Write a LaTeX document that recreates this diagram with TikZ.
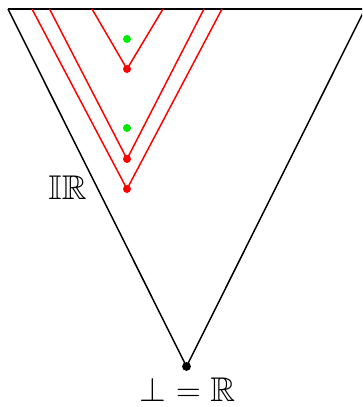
\documentclass[tikz,border=0pt]{standalone}
\usepackage{amsmath}
\usepackage{amssymb}
\usepackage{tikz}
\usetikzlibrary{positioning}
\definecolor{myred}{RGB}{255,0,0}
\definecolor{mygreen}{RGB}{0,235,0}
\tikzset{
  edge/.style={line width=1.05pt, color=black},
  upset/.style={line width=1.05pt, color=myred},
  blackdot/.style={circle, fill=black, inner sep=0pt, minimum size=0.22cm},
  reddot/.style={circle, fill=myred, inner sep=0pt, minimum size=0.2cm},
  greendot/.style={circle, fill=mygreen, inner sep=0pt, minimum size=0.2cm},
  lbl/.style={inner sep=0pt, font=\Huge, scale=0.98}
}

\begin{document}
\begin{tikzpicture}[x=0.025cm, y=-0.025cm]
  \useasboundingbox (0,0) rectangle (362,407);
  \clip (0,0) rectangle (362,407);

  % Bottom and the big triangle
  \node[blackdot] (bot) at (186.5,366.5) {};
  \coordinate (tl) at (8,9);
  \coordinate (tr) at (365,9);
  \draw[edge] (tl) -- (tr);
  \draw[edge] (tl) -- (bot.center) -- (tr);

  % Points
  \node[reddot] (v1) at (127,69) {};
  \node[reddot] (v2) at (127,159) {};
  \node[reddot] (v3) at (127,189) {};
  \node[greendot] (g1) at (127,39) {};
  \node[greendot] (g2) at (127,128) {};

  % Upper sets
  \coordinate (a1) at (92,9);
  \coordinate (b1) at (163,9);
  \coordinate (a2) at (49.5,9);
  \coordinate (b2) at (204,9);
  \coordinate (a3) at (32,9);
  \coordinate (b3) at (222,9);
  \draw[upset] (a1) -- (v1.center) -- (b1);
  \draw[upset] (a2) -- (v2.center) -- (b2);
  \draw[upset] (a3) -- (v3.center) -- (b3);

  % Labels
  \node[lbl] (ir) at (67.5,188) {$\mathbb{IR}$};
  \node[lbl] (bottom) at (187.5,390) {$\bot = \mathbb{R}$};
\end{tikzpicture}
\end{document}
